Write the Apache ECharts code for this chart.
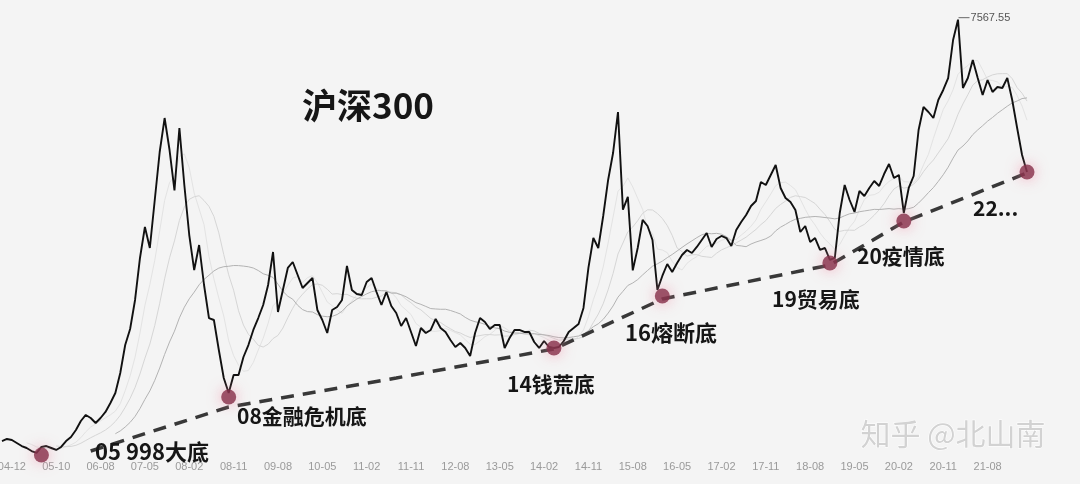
<!DOCTYPE html>
<html>
<head>
<meta charset="utf-8">
<script src="https://cdn.jsdelivr.net/npm/echarts@6/dist/echarts.min.js"></script>
<style>
html,body{margin:0;padding:0;background:#f4f4f4;}
#chart{width:1080px;height:484px;}
</style>
</head>
<body>
<div id="chart"></div>
<script>
// ---- data (monthly closes of the CSI 300 total-return curve) ----
const startYear = 2004, startMonth = 10; // first category: 2004-10
const price = [
984,1016,1000,953,906,875,828,797,891,906,
875,844,891,984,1047,1156,1297,1391,1344,1266,
1344,1438,1578,1734,2047,2484,2734,3188,3844,4328,
4000,4750,5500,6031,5531,4900,5875,4984,4203,3656,
4047,3422,2906,2875,2406,1969,1734,2016,2016,2297,
2484,2719,2906,3109,3422,3938,3000,3344,3688,3781,
3578,3375,3453,3531,3031,2875,2672,3031,3078,3188,
3719,3344,3281,3266,3469,3531,3313,3109,3313,3094,
2984,2781,2906,2688,2469,2750,2672,2719,2891,2750,
2688,2563,2453,2516,2438,2313,2672,2906,2844,2734,
2797,2797,2438,2594,2719,2719,2688,2688,2531,2438,
2547,2453,2438,2453,2547,2688,2750,2813,3063,3688,
4156,4000,4500,5063,5484,6125,4600,4800,3650,4000,
4438,4344,4125,3344,3563,3750,3625,3766,3891,3969,
3922,4016,4125,4234,4016,4141,4188,4156,4031,4281,
4406,4516,4656,4734,5031,4984,5141,5297,4938,4781,
4719,4594,4250,4344,4094,4156,3969,4000,3813,3844,
4547,4984,4750,4563,4891,4813,4938,5047,4969,5156,
5313,5094,5141,4547,4938,5125,5844,6203,6125,6031,
6313,6469,6656,7250,7567.55,6500,6656,6938,6656,6391,
6625,6438,6516,6500,6656,6313,5875,5453,5188
];
const tickLabels = ["04-12","05-10","06-08","07-05","08-02","08-11","09-08","10-05","11-02","11-11","12-08","13-05",
  "14-02","14-11","15-08","16-05","17-02","17-11","18-08","19-05","20-02","20-11","21-08"];
const firstTickIndex = 2, tickStep = 9;
// dashed support line through the bottoms
const trendIdx = [18, 46, 80, 112, 134, 168, 183, 208];
const trendVal = [828, 1516, 1969, 2422, 3203, 3734, 4406, 5172];
// marked bottoms
const bottomIdx = [8, 46, 112, 134, 168, 183, 208];
const bottomVal = [766, 1672, 2438, 3250, 3766, 4422, 5188];
// annotations
const title = "沪深300";
const bottomNames = ["05 998大底", "08金融危机底", "14钱荒底", "16熔断底", "19贸易底", "20疫情底", "22..."];
const watermark = "知乎 @北山南";

// ---- build ----
const months = price.map((_, i) => {
  const m = startMonth - 1 + i;
  const y = startYear + Math.floor(m / 12);
  const mm = (m % 12) + 1;
  return y + "-" + (mm < 10 ? "0" + mm : mm);
});
function movingAverage(arr, n) {
  return arr.map((v, i) => {
    if (i < n - 1) return null;
    let s = 0;
    for (let k = i - n + 1; k <= i; k++) s += arr[k];
    return +(s / n).toFixed(1);
  });
}
const trendData = price.map(() => null);
trendIdx.forEach((k, j) => { trendData[k] = trendVal[j]; });
const bottomData = bottomIdx.map((k, j) => [k, bottomVal[j]]);

const chart = echarts.init(document.getElementById('chart'), null, {renderer: 'canvas'});
const cjk = '"Noto Sans CJK SC", "Noto Sans", sans-serif';
function annot(text, left, top, size) {
  return {type: 'text', left: left, top: top, z: 100,
    style: {text: text, fill: '#161616', font: 'bold ' + size + 'px ' + cjk}};
}
chart.setOption({
  backgroundColor: '#f4f4f4',
  animation: false,
  grid: {left: 2, right: 53, top: 0, bottom: 26, containLabel: false, outerBoundsMode: 'none'},
  xAxis: {
    type: 'category', data: months, boundaryGap: false,
    axisLine: {show: false}, axisTick: {show: false}, splitLine: {show: false},
    axisLabel: {
      margin: 3, color: '#9a9a9a', fontSize: 11, fontFamily: '"Liberation Sans", sans-serif',
      interval: (i) => i >= firstTickIndex && (i - firstTickIndex) % tickStep === 0,
      formatter: (v, i) => tickLabels[(i - firstTickIndex) / tickStep] || ''
    }
  },
  yAxis: {type: 'value', min: 718.75, max: 7875, show: false, splitLine: {show: false}},
  series: [
    {type: 'line', data: movingAverage(price, 6), showSymbol: false, clip: false, silent: true,
      lineStyle: {color: '#e3e3e3', width: 1}, z: 1},
    {type: 'line', data: movingAverage(price, 12), showSymbol: false, clip: false, silent: true,
      lineStyle: {color: '#d6d6d6', width: 1}, z: 1},
    {type: 'line', data: movingAverage(price, 24), showSymbol: false, clip: false, silent: true,
      lineStyle: {color: '#b3b3b3', width: 1}, z: 1},
    {type: 'line', data: price, showSymbol: false, clip: false,
      lineStyle: {color: '#111', width: 1.9}, z: 3,
      markPoint: {
        data: [{type: 'max'}],
        symbol: 'rect', symbolSize: [11, 1], symbolOffset: [6, -2],
        itemStyle: {color: '#666'},
        label: {show: true, position: 'right', distance: 1, color: '#555', fontSize: 11,
          fontFamily: '"Liberation Sans", sans-serif',
          formatter: (p) => Number(p.value).toFixed(2)}
      }},
    {type: 'line', data: trendData, connectNulls: true, showSymbol: false, clip: false,
      lineStyle: {color: '#383838', width: 3.5, type: [13, 9]}, z: 4},
    {type: 'scatter', data: bottomData, symbolSize: 15, clip: false, z: 5,
      itemStyle: {color: '#86304a', shadowBlur: 14, shadowColor: 'rgba(240,140,165,0.85)'}}
  ],
  graphic: [
    annot(title, 302, 88, 35),
    annot(bottomNames[0], 95, 441, 22),
    annot(bottomNames[1], 237, 406, 21),
    annot(bottomNames[2], 507, 374, 21),
    annot(bottomNames[3], 625, 322, 22),
    annot(bottomNames[4], 772, 289, 21),
    annot(bottomNames[5], 857, 246, 21),
    annot(bottomNames[6], 973, 198, 21),
    {type: 'text', left: 860, top: 418, z: 90,
      style: {text: watermark, fill: '#d2d2d2', stroke: '#ffffff', lineWidth: 1,
        font: '30px ' + cjk}}
  ]
});
</script>
</body>
</html>
